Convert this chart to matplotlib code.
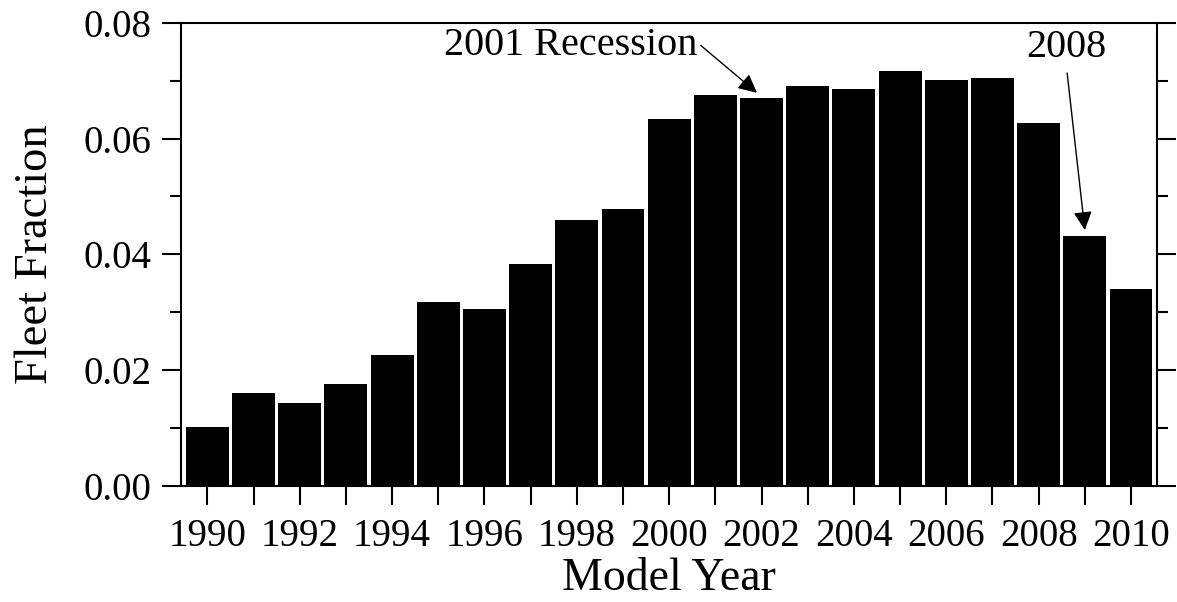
import matplotlib
matplotlib.use("Agg")
from matplotlib import pyplot as plt
from matplotlib.ticker import MultipleLocator

# fleet fraction by model year
years = list(range(1990, 2011))
fleet_fraction = [0.0102, 0.0160, 0.0143, 0.0176, 0.0227, 0.0318, 0.0305,
                  0.0384, 0.0459, 0.0479, 0.0634, 0.0676, 0.0670, 0.0690,
                  0.0686, 0.0717, 0.0701, 0.0705, 0.0627, 0.0432, 0.0341]
label_years = list(range(1990, 2011, 2))

plt.rcParams['font.family'] = ['Liberation Serif', 'DejaVu Serif']

fig = plt.figure(figsize=(11.77, 6.02), dpi=100)
ax = fig.add_axes([0.1538, 0.1927, 0.8295, 0.7696])

ax.bar(years, fleet_fraction, width=0.93, color='black', edgecolor='none')

ax.set_xlim(1989.43, 2010.57)
ax.set_ylim(0, 0.08)

ax.set_xticks(label_years)
ax.set_xticklabels([str(y) for y in label_years])
ax.xaxis.set_minor_locator(MultipleLocator(1))
ax.yaxis.set_major_locator(MultipleLocator(0.02))
ax.yaxis.set_minor_locator(MultipleLocator(0.01))
ax.yaxis.set_major_formatter(matplotlib.ticker.FormatStrFormatter('%.2f'))

ax.tick_params(axis='x', which='both', direction='out', length=14, width=1.5,
               labelsize=28, pad=9, top=False)
ax.tick_params(axis='y', which='major', direction='out', length=14, width=1.5,
               labelsize=28, pad=7, right=True)
ax.tick_params(axis='y', which='minor', direction='out', length=8, width=1.5,
               right=True)
for sp in ax.spines.values():
    sp.set_linewidth(1.5)

ax.set_xlabel('Model Year', fontsize=33, labelpad=2)
ax.set_ylabel('Fleet Fraction', fontsize=33.5, labelpad=19)

arrow = dict(arrowstyle='-|>', color='black', lw=1, mutation_scale=28,
             shrinkA=1, shrinkB=0)
ax.annotate('2001 Recession', xy=(2001.9, 0.0679), xytext=(2000.6, 0.0760),
            ha='right', va='center', fontsize=29,
            arrowprops=dict(arrow, relpos=(1.0, 0.6)))
ax.annotate('2008', xy=(2009.0, 0.0442), xytext=(2008.6, 0.0757),
            ha='center', va='center', fontsize=29,
            arrowprops=dict(arrow, relpos=(0.5, 0.0), shrinkA=3))

fig.savefig('out.png', dpi=100)
